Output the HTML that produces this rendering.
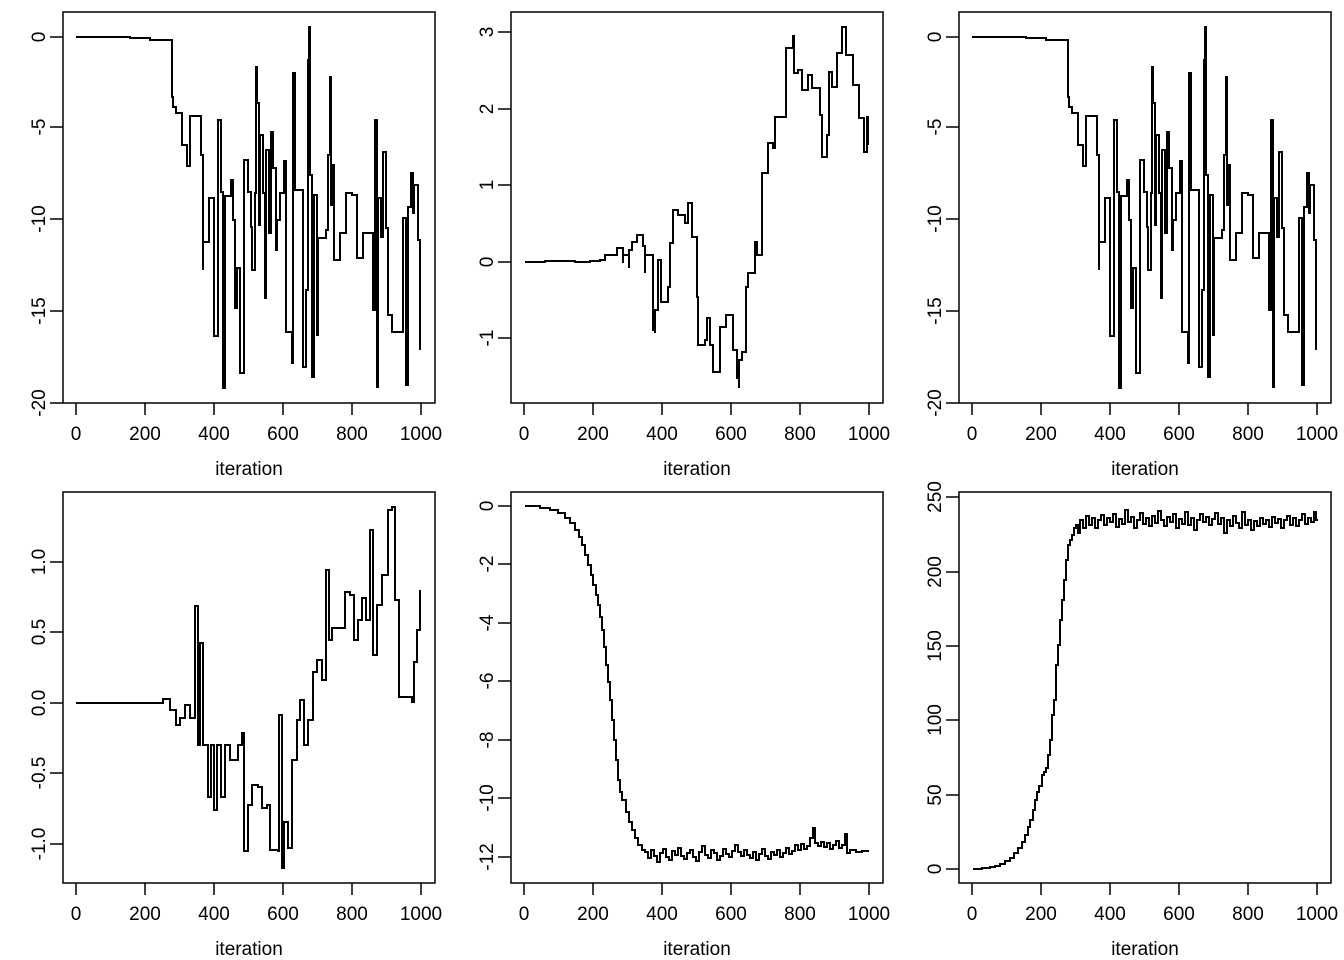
<!DOCTYPE html>
<html><head><meta charset="utf-8"><style>
html,body{margin:0;padding:0;background:#fff}
svg{display:block}
text{font-family:"Liberation Sans",Arial,sans-serif;font-size:19px;fill:#000}
.ln{fill:none;stroke:#000;stroke-width:2}
.bx{fill:none;stroke:#000;stroke-width:1.5}
</style></head><body>
<svg width="1344" height="960" viewBox="0 0 1344 960" xmlns="http://www.w3.org/2000/svg">
<defs>
<g id="xax">
  <path class="bx" d="M76,0 v12 M145,0 v12 M214,0 v12 M283,0 v12 M352,0 v12 M421,0 v12"/>
  <text x="76" y="37" text-anchor="middle">0</text>
  <text x="145" y="37" text-anchor="middle">200</text>
  <text x="214" y="37" text-anchor="middle">400</text>
  <text x="283" y="37" text-anchor="middle">600</text>
  <text x="352" y="37" text-anchor="middle">800</text>
  <text x="421" y="37" text-anchor="middle">1000</text>
  <text x="249" y="72" text-anchor="middle">iteration</text>
</g>
<g id="p1">
  <rect class="bx" x="63" y="12" width="372" height="391"/>
  <use href="#xax" x="0" y="403"/>
  <path class="bx" d="M50,37 h13 M50,127 h13 M50,219 h13 M50,311 h13 M50,403 h13"/>
  <text transform="translate(45,37) rotate(-90)" text-anchor="middle">0</text>
  <text transform="translate(45,127) rotate(-90)" text-anchor="middle">-5</text>
  <text transform="translate(45,219) rotate(-90)" text-anchor="middle">-10</text>
  <text transform="translate(45,311) rotate(-90)" text-anchor="middle">-15</text>
  <text transform="translate(45,403) rotate(-90)" text-anchor="middle">-20</text>
  <path class="ln" d="M76,37 H130 V38 H150 V40 H172 V97 H173 V107 H176 V113 H182 V145 H187 V166 H190 V116 H201 V155 H203 V270 V242 H209 V198 H214 V336 H218 V120 H221 V192 H223 V388 H225 V196 H231 V180 H233 V220 H235 V308 H237 V268 H240 V373 H244 V160 H248 V192 H251 V227 H252 V270 H255 V193 H256 V67 H257 V103 H259 V225 H260 V135 H263 V193 H265 V298 H266 V150 H269 V233 H271 V132 H273 V168 H276 V250 H277 V220 H280 V193 H284 V161 H286 V332 H292 V363 H293 V73 H295 V190 H303 V367 H306 V290 H308 V60 H309 V27 H310 V175 H312 V377 H314 V195 H317 V335 H318 V238 H326 V230 H328 V155 H330 V77 H331 V205 H333 V165 H334 V260 H340 V233 H346 V193 H352 V195 H357 V258 H363 V233 H373 V310 H375 V120 H377 V387 H378 V198 H381 V237 H383 V152 H386 V228 H388 V315 H392 V332 H403 V218 H406 V385 H408 V207 H411 V173 H413 V213 H414 V185 H418 V240 H420 V350"/>
</g>
</defs>

<use href="#p1"/>
<use href="#p1" x="896"/>

<!-- Panel 2 -->
<rect class="bx" x="511" y="12" width="372" height="391"/>
<use href="#xax" x="448" y="403"/>
<path class="bx" d="M498,32 h13 M498,109 h13 M498,185 h13 M498,262 h13 M498,338 h13"/>
<text transform="translate(493,32) rotate(-90)" text-anchor="middle">3</text>
<text transform="translate(493,109) rotate(-90)" text-anchor="middle">2</text>
<text transform="translate(493,185) rotate(-90)" text-anchor="middle">1</text>
<text transform="translate(493,262) rotate(-90)" text-anchor="middle">0</text>
<text transform="translate(493,338) rotate(-90)" text-anchor="middle">-1</text>
<path class="ln" d="M525,262 H545 V261 H575 V262 H590 V261 H600 V260 H605 V255 H617 V248 H623 V263 V255 H629 V268 V250 H632 V242 H637 V235 H643 V246 H645 V273 V255 H652 V255 H653 V330 H655 V333 V310 H658 V260 H661 V302 H668 V287 H670 V243 H673 V210 H678 V215 H685 V223 H688 V203 H692 V237 H697 V297 H698 V345 H705 V340 H707 V318 H710 V345 H713 V372 H720 V327 H726 V315 H733 V350 H737 V378 H739 V388 V360 H742 V352 H746 V287 H748 V273 H755 V242 H757 V255 H762 V173 H768 V143 H773 V148 H775 V117 H785 V117 H786 V48 H793 V36 H794 V73 H798 V70 H802 V90 H808 V75 H812 V88 H820 V115 H822 V157 H827 V135 H829 V72 H832 V87 H837 V53 H842 V27 H846 V55 H853 V85 H859 V118 H864 V152 H867 V117 H868 V145"/>

<!-- Panel 4 -->
<rect class="bx" x="63" y="492" width="372" height="391"/>
<use href="#xax" x="0" y="883"/>
<path class="bx" d="M50,562 h13 M50,632 h13 M50,703 h13 M50,773 h13 M50,844 h13"/>
<text transform="translate(45,562) rotate(-90)" text-anchor="middle">1.0</text>
<text transform="translate(45,632) rotate(-90)" text-anchor="middle">0.5</text>
<text transform="translate(45,703) rotate(-90)" text-anchor="middle">0.0</text>
<text transform="translate(45,773) rotate(-90)" text-anchor="middle">-0.5</text>
<text transform="translate(45,844) rotate(-90)" text-anchor="middle">-1.0</text>
<path class="ln" d="M76,703 H163 V699 H170 V710 H176 V725 H180 V718 H185 V705 H190 V718 H195 V606 H198 V745 H200 V643 H203 V745 H208 V797 H211 V745 H214 V810 H217 V745 H221 V797 H225 V745 H230 V760 H238 V745 H242 V733 H244 V851 H248 V805 H252 V785 H258 V787 H262 V808 H267 V805 H270 V850 H278 V851 H279 V715 H282 V868 H284 V822 H288 V848 H292 V760 H297 V720 H300 V700 H304 V745 H308 V720 H313 V672 H317 V660 H322 V680 H326 V570 H329 V640 H332 V628 H343 V628 H345 V592 H350 V595 H354 V640 H358 V620 H362 V598 H366 V620 H370 V530 H373 V655 H377 V605 H382 V575 H388 V510 H392 V507 H395 V600 H399 V697 H412 V702 H414 V662 H417 V630 H420 V590"/>

<!-- Panel 5 -->
<rect class="bx" x="511" y="492" width="372" height="391"/>
<use href="#xax" x="448" y="883"/>
<path class="bx" d="M498,506 h13 M498,564 h13 M498,623 h13 M498,681 h13 M498,740 h13 M498,798 h13 M498,857 h13"/>
<text transform="translate(493,506) rotate(-90)" text-anchor="middle">0</text>
<text transform="translate(493,564) rotate(-90)" text-anchor="middle">-2</text>
<text transform="translate(493,623) rotate(-90)" text-anchor="middle">-4</text>
<text transform="translate(493,681) rotate(-90)" text-anchor="middle">-6</text>
<text transform="translate(493,740) rotate(-90)" text-anchor="middle">-8</text>
<text transform="translate(493,798) rotate(-90)" text-anchor="middle">-10</text>
<text transform="translate(493,857) rotate(-90)" text-anchor="middle">-12</text>
<path class="ln" d="M525,506 H540 V508 H550 V510 H558 V513 H565 V518 H570 V523 H575 V530 H579 V537 H582 V545 H585 V555 H588 V565 H591 V575 H593 V585 H596 V595 H598 V605 H600 V617 H602 V630 H604 V647 H606 V665 H608 V682 H610 V700 H612 V720 H614 V740 H616 V760 H618 V780 H620 V792 H622 V800 H626 V812 H629 V822 H632 V830 H635 V838 H638 V845 H642 V850 H645 V852 H648 V858 H651 V850 H654 V856 H657 V862 H660 V853 H663 V849 H666 V857 H669 V860 H672 V851 H675 V855 H678 V848 H681 V856 H684 V859 H687 V853 H690 V850 H693 V857 H696 V861 H699 V852 H702 V846 H705 V855 H708 V858 H711 V850 H714 V853 H717 V860 H720 V856 H723 V849 H726 V854 H729 V857 H732 V851 H735 V845 H738 V852 H741 V856 H744 V850 H747 V855 H750 V858 H753 V852 H756 V860 H759 V854 H762 V849 H765 V856 H768 V859 H771 V852 H774 V855 H777 V850 H780 V857 H783 V853 H786 V848 H789 V854 H792 V851 H795 V845 H798 V850 H801 V844 H804 V849 H807 V846 H810 V838 H813 V828 H815 V843 H818 V846 H821 V842 H824 V847 H827 V843 H830 V849 H833 V845 H836 V841 H839 V848 H842 V845 H845 V834 H847 V853 H850 V850 H856 V852 H862 V851 H869"/>

<!-- Panel 6 -->
<rect class="bx" x="959" y="492" width="372" height="391"/>
<use href="#xax" x="896" y="883"/>
<path class="bx" d="M946,497 h13 M946,572 h13 M946,646 h13 M946,720 h13 M946,795 h13 M946,869 h13"/>
<text transform="translate(941,497) rotate(-90)" text-anchor="middle">250</text>
<text transform="translate(941,572) rotate(-90)" text-anchor="middle">200</text>
<text transform="translate(941,646) rotate(-90)" text-anchor="middle">150</text>
<text transform="translate(941,720) rotate(-90)" text-anchor="middle">100</text>
<text transform="translate(941,795) rotate(-90)" text-anchor="middle">50</text>
<text transform="translate(941,869) rotate(-90)" text-anchor="middle">0</text>
<path class="ln" d="M973,869 H982 V868 H990 V867 H995 V866 H1000 V864 H1005 V861 H1010 V858 H1014 V853 H1018 V848 H1022 V842 H1025 V835 H1028 V827 H1030 V820 H1033 V810 H1035 V800 H1037 V792 H1039 V786 H1042 V775 H1044 V772 H1046 V768 H1048 V755 H1050 V740 H1052 V715 H1054 V700 H1056 V665 H1058 V645 H1060 V620 H1062 V600 H1064 V580 H1066 V560 H1068 V545 H1070 V540 H1072 V535 H1074 V528 H1076 V525 H1078 V533 H1080 V520 H1083 V528 H1086 V516 H1089 V525 H1092 V518 H1095 V528 H1098 V520 H1101 V515 H1104 V525 H1107 V518 H1110 V522 H1113 V514 H1116 V527 H1119 V519 H1122 V524 H1125 V510 H1128 V522 H1131 V517 H1134 V528 H1137 V520 H1140 V513 H1143 V524 H1146 V518 H1149 V526 H1152 V516 H1155 V523 H1158 V511 H1161 V520 H1164 V526 H1167 V517 H1170 V522 H1173 V514 H1176 V528 H1179 V519 H1182 V524 H1185 V512 H1188 V525 H1191 V518 H1194 V530 H1197 V520 H1200 V514 H1203 V522 H1206 V517 H1209 V525 H1212 V519 H1215 V513 H1218 V524 H1221 V518 H1224 V533 H1227 V520 H1230 V526 H1233 V516 H1236 V523 H1239 V528 H1242 V512 H1245 V525 H1248 V520 H1251 V530 H1254 V521 H1257 V526 H1260 V518 H1263 V524 H1266 V520 H1269 V527 H1272 V517 H1275 V523 H1278 V519 H1281 V528 H1284 V520 H1287 V516 H1290 V525 H1293 V518 H1296 V526 H1299 V520 H1302 V514 H1305 V524 H1308 V518 H1311 V522 H1314 V512 H1316 V520 H1318"/>
</svg>
</body></html>
